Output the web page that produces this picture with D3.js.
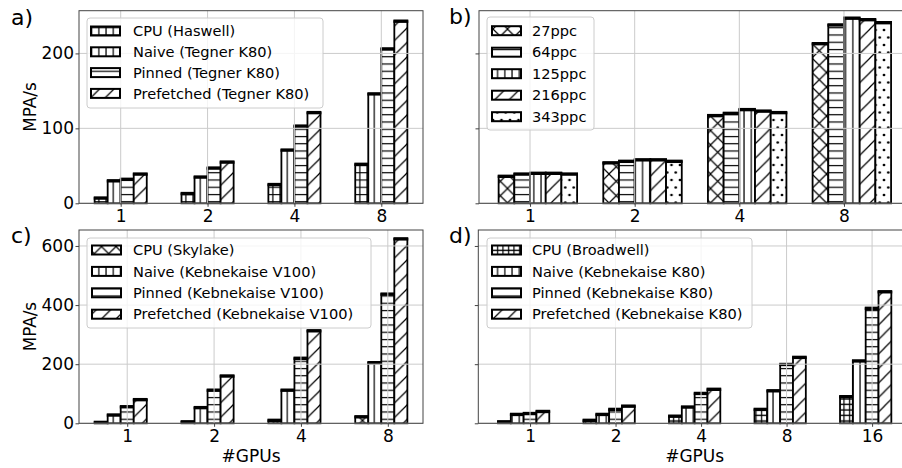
<!DOCTYPE html>
<html><head><meta charset="utf-8">
<script src="https://cdn.jsdelivr.net/npm/d3@7"></script>
<style>
body{margin:0;background:#fff}
svg{display:block}
text{font-family:"DejaVu Sans",sans-serif;fill:#000}
</style>
</head><body>
<svg id="chart" width="902" height="468"></svg>
<script>
// ---------------- data ----------------
const gpus4 = ["1", "2", "4", "8"];
const gpus5 = ["1", "2", "4", "8", "16"];

// panel a
const namesA = ["CPU (Haswell)", "Naive (Tegner K80)", "Pinned (Tegner K80)", "Prefetched (Tegner K80)"];
const cpuA = [7, 13, 25, 52];
const naiveA = [30, 35, 71, 146];
const pinnedA = [32, 47, 103, 206];
const prefA = [39, 55, 121, 243];

// panel b
const namesB = ["27ppc", "64ppc", "125ppc", "216ppc", "343ppc"];
const ppc27 = [36, 54, 117, 213];
const ppc64 = [39, 56, 120, 238];
const ppc125 = [40, 58, 125, 247];
const ppc216 = [40, 58, 123, 245];
const ppc343 = [39, 56, 121, 241];

// panel c
const namesC = ["CPU (Skylake)", "Naive (Kebnekaise V100)", "Pinned (Kebnekaise V100)", "Prefetched (Kebnekaise V100)"];
const cpuC = [3, 5, 10, 22];
const naiveC = [28, 53, 112, 205];
const pinnedC = [56, 112, 220, 437];
const prefC = [80, 160, 313, 624];

// panel d
const namesD = ["CPU (Broadwell)", "Naive (Kebnekaise K80)", "Pinned (Kebnekaise K80)", "Prefetched (Kebnekaise K80)"];
const cpuD = [5, 10, 24, 47, 90];
const naiveD = [30, 30, 55, 110, 211];
const pinnedD = [33, 47, 101, 199, 389];
const prefD = [40, 58, 115, 223, 445];

const yTicksTop = [0, 100, 200];
const yTicksBottom = [0, 200, 400, 600];

// ---------------- layout ----------------
const BAR_W = 0.15;
const panels = [
  {label: "a)", cats: gpus4, series: [cpuA, naiveA, pinnedA, prefA], names: namesA,
   hatch: ["plus", "vline", "hline", "diag"], shift: 1.5,
   xDomain: [-0.48, 3.48], xRange: [79, 423], yDomain: [0, 257], yRange: [203.3, 10.7],
   yTicks: yTicksTop, yLabels: true, ylab: true, xlab: false,
   lab: [11, 25], leg: {x: 87, y: 18, w: 236, h: 90, hx: 91, tx: 133, r0: 31, step: 20.8}},
  {label: "b)", cats: gpus4, series: [ppc27, ppc64, ppc125, ppc216, ppc343], names: namesB,
   hatch: ["cross", "hline", "vline", "diag", "dots"], shift: 1.5,
   xDomain: [-0.4875, 3.6375], xRange: [479, 910.7], yDomain: [0, 257], yRange: [203.3, 10.7],
   yTicks: yTicksTop, yLabels: false, ylab: false, xlab: false,
   lab: [449, 24], leg: {x: 487, y: 17, w: 107, h: 113, hx: 492, tx: 532, r0: 30.7, step: 21.5}},
  {label: "c)", cats: gpus4, series: [cpuC, naiveC, pinnedC, prefC], names: namesC,
   hatch: ["cross", "vline", "hline", "diag"], shift: 2,
   xDomain: [-0.555, 3.405], xRange: [79, 423], yDomain: [0, 654], yRange: [423.3, 230],
   yTicks: yTicksBottom, yLabels: true, ylab: true, xlab: true,
   lab: [11, 243], leg: {x: 87, y: 238, w: 284, h: 90, hx: 92, tx: 133, r0: 250, step: 21.4}},
  {label: "d)", cats: gpus5, series: [cpuD, naiveD, pinnedD, prefD], names: namesD,
   hatch: ["grid2", "vline", "hline", "diag"], shift: 2,
   xDomain: [-0.605, 4.455], xRange: [478.3, 911], yDomain: [0, 654], yRange: [423.3, 230],
   yTicks: yTicksBottom, yLabels: false, ylab: false, xlab: true,
   lab: [449, 243], leg: {x: 487, y: 238, w: 265, h: 90, hx: 492, tx: 532, r0: 250, step: 21.4}}
];

const svg = d3.select("#chart");
svg.append("rect").attr("width", 902).attr("height", 468).attr("fill", "#fff");

// ---------------- hatch patterns ----------------
const defs = svg.append("defs");
const HW = 1.2;
function pat(id, w, h) {
  const p = defs.append("pattern").attr("id", id).attr("patternUnits", "userSpaceOnUse")
    .attr("width", w).attr("height", h);
  p.append("rect").attr("width", w).attr("height", h).attr("fill", "#fff");
  return p;
}
const S = 7.25, D = 14.5;
pat("vline", S, S).append("path").attr("d", `M4.55,0V${S}`).attr("stroke", "#000").attr("stroke-width", HW);
pat("hline", S, S).append("path").attr("d", `M0,6H${S}`).attr("stroke", "#000").attr("stroke-width", HW);
pat("plus", S, S).append("path").attr("d", `M4.55,0V${S}M0,6H${S}`).attr("stroke", "#000").attr("stroke-width", HW);
pat("grid2", 5.5, 5.5).append("path").attr("d", `M2.5,0V5.5M0,3H5.5`).attr("stroke", "#000").attr("stroke-width", HW);
pat("diag", D, D).append("path")
  .attr("d", `M0,${D}L${D},0M-4,4L4,-4M${D-4},${D+4}L${D+4},${D-4}`)
  .attr("stroke", "#000").attr("stroke-width", HW);
pat("cross", D, D).append("path")
  .attr("d", `M0,${D}L${D},0M-4,4L4,-4M${D-4},${D+4}L${D+4},${D-4}M0,0L${D},${D}M-4,${D-4}L4,${D+4}M${D-4},-4L${D+4},4`)
  .attr("stroke", "#000").attr("stroke-width", HW);
{
  const p = pat("dots", 8.5, 15);
  [[0, 0], [8.5, 0], [4.25, 7.5], [0, 15], [8.5, 15]].forEach(([cx, cy]) =>
    p.append("circle").attr("cx", cx).attr("cy", cy).attr("r", 1.35).attr("fill", "#000"));
}

const AX = "#444";
const GRID = "#cbcbcb";

panels.forEach(P => {
  const xs = d3.scaleLinear().domain(P.xDomain).range(P.xRange);
  const ys = d3.scaleLinear().domain(P.yDomain).range(P.yRange);
  const [x0, x1] = P.xRange;
  const [yb, yt] = P.yRange;
  const g = svg.append("g");

  // bars
  P.series.forEach((vals, j) => {
    const off = (j - P.shift);
    vals.forEach((v, i) => {
      const l = xs(i + (off - 0.5) * BAR_W), r = xs(i + (off + 0.5) * BAR_W);
      const top = ys(v), bot = ys(0);
      g.append("rect").attr("x", l).attr("y", top).attr("width", r - l).attr("height", bot - top)
        .attr("fill", `url(#${P.hatch[j]})`).attr("stroke", "#000").attr("stroke-width", 1.8);
      g.append("line").attr("x1", l - 0.9).attr("x2", r + 0.9).attr("y1", top).attr("y2", top)
        .attr("stroke", "#000").attr("stroke-width", 3.4);
    });
  });

  // grid (drawn above bars, like matplotlib default)
  P.cats.forEach((c, i) => g.append("line").attr("x1", xs(i)).attr("x2", xs(i)).attr("y1", yt).attr("y2", yb)
    .attr("stroke", GRID).attr("stroke-width", 1));
  P.yTicks.forEach(t => g.append("line").attr("x1", x0).attr("x2", x1).attr("y1", ys(t)).attr("y2", ys(t))
    .attr("stroke", GRID).attr("stroke-width", 1));

  // axes
  const xa = d3.axisBottom(xs).tickValues(d3.range(P.cats.length)).tickFormat(i => P.cats[i])
    .tickSize(3.5).tickPadding(3.0);
  const gx = g.append("g").attr("transform", `translate(0,${yb})`).call(xa);
  const ya = d3.axisLeft(ys).tickValues(P.yTicks).tickFormat(P.yLabels ? d3.format("d") : () => "")
    .tickSize(3.5).tickPadding(1.5);
  const gy = g.append("g").attr("transform", `translate(${x0},0)`).call(ya);
  [gx, gy].forEach(a => {
    a.select(".domain").remove();
    a.selectAll("line").attr("stroke", AX);
    a.selectAll("text").attr("font-size", 17).attr("font-family", "DejaVu Sans").attr("fill", "#000");
  });

  // spines
  g.append("rect").attr("x", x0).attr("y", yt).attr("width", x1 - x0).attr("height", yb - yt)
    .attr("fill", "none").attr("stroke", AX).attr("stroke-width", 1);

  // panel label
  g.append("text").attr("x", P.lab[0]).attr("y", P.lab[1]).attr("font-size", 22).text(P.label);

  if (P.ylab) {
    g.append("text").attr("transform", `translate(36,${(yt + yb) / 2}) rotate(-90)`)
      .attr("text-anchor", "middle").attr("font-size", 16.8).text("MPA/s");
  }
  if (P.xlab) {
    g.append("text").attr("x", (x0 + x1) / 2).attr("y", 462).attr("text-anchor", "middle")
      .attr("font-size", 17).text("#GPUs");
  }

  // legend
  const L = P.leg;
  const lg = svg.append("g");
  lg.append("rect").attr("x", L.x).attr("y", L.y).attr("width", L.w).attr("height", L.h).attr("rx", 3)
    .attr("fill", "#fff").attr("fill-opacity", 0.8).attr("stroke", "#cccccc").attr("stroke-width", 1);
  P.names.forEach((n, j) => {
    const cy = L.r0 + j * L.step;
    lg.append("rect").attr("x", L.hx).attr("y", cy - 4.5).attr("width", 29).attr("height", 9)
      .attr("fill", `url(#${P.hatch[j]})`).attr("stroke", "#000").attr("stroke-width", 2);
    lg.append("text").attr("x", L.tx).attr("y", cy).attr("dy", "0.36em").attr("font-size", 14.6).text(n);
  });
});
</script>
</body></html>
